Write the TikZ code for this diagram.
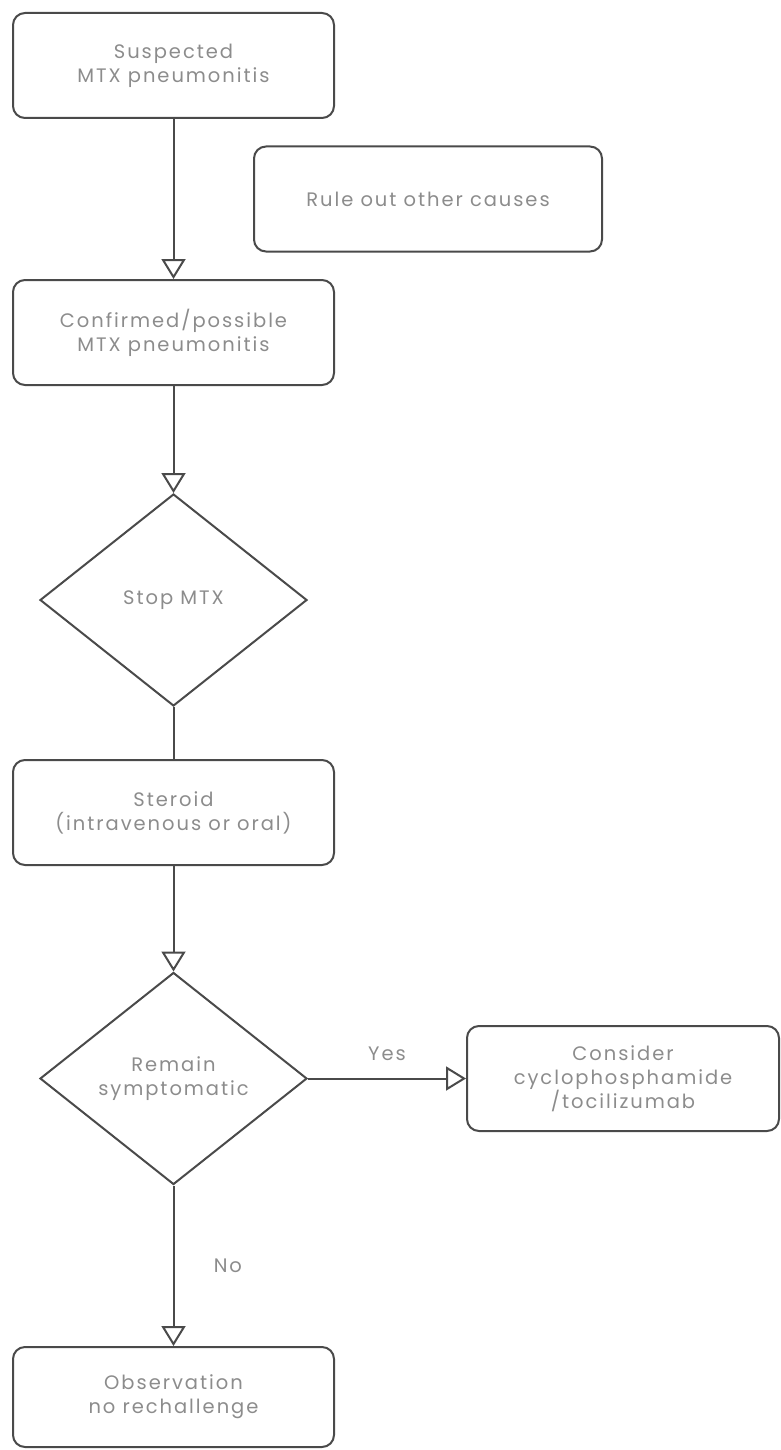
\documentclass[tikz,border=0pt]{standalone}
\usepackage{fontspec}
\setmainfont{Poppins}[LetterSpace=10]
\usetikzlibrary{shapes.geometric,arrows.meta}
\definecolor{linegray}{HTML}{4A4A4A}
\definecolor{textgray}{HTML}{8C8C8C}
\begin{document}
\begin{tikzpicture}[x=1pt,y=-1pt,
    box/.style={draw=linegray,line width=2pt,rounded corners=12pt,
      text=textgray,align=center,font=\fontsize{19.5}{24}\selectfont,
      minimum width=321pt,minimum height=105pt,inner sep=0pt},
    decision/.style={diamond,draw=linegray,line width=2pt,
      text=textgray,align=center,font=\fontsize{19.5}{24}\selectfont,
      minimum width=267pt,minimum height=212pt,inner sep=0pt},
    flow/.style={draw=linegray,line width=2pt,
      -{Triangle[open,length=20pt,width=24pt,line width=2pt]}},
    tag/.style={text=textgray,font=\fontsize{19.5}{24}\selectfont}]

      \useasboundingbox (0,0) rectangle (780,1450);

      \node[box] (suspected) at (173.5,65.5) {Suspected\\MTX pneumonitis};
      \node[box,minimum width=348pt] (ruleout) at (428,199) {Rule out other causes};
      \node[box] (confirmed) at (173.5,332.5) {Confirmed/possible\\MTX pneumonitis};
      \node[decision] (stop) at (173.5,600) {Stop MTX};
      \node[box] (steroid) at (173.5,812.5) {Steroid\\(intravenous or oral)};
      \node[decision] (remain) at (173.5,1078.5) {Remain\\symptomatic};
      \node[box,minimum width=312pt] (consider) at (623,1078.5) {Consider\\cyclophosphamide\\/tocilizumab};
      \node[box,minimum height=100pt] (observe) at (173.5,1397) {Observation\\no rechallenge};

      \draw[flow] (suspected) -- (confirmed);
      \draw[flow] (confirmed) -- (stop);
      \draw[draw=linegray,line width=2pt] (stop) -- (steroid);
      \draw[flow] (steroid) -- (remain);
      \draw[flow] (remain) -- node[tag,above=14pt]{Yes} (consider);
      \draw[flow] (remain) -- node[tag,right=36pt]{No} (observe);
  \end{tikzpicture}
\end{document}
